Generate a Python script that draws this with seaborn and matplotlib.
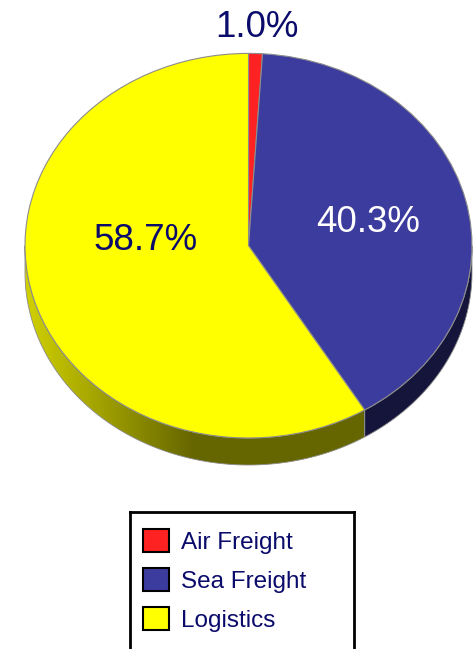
import numpy as np
import matplotlib
matplotlib.use("Agg")
import matplotlib.pyplot as plt
import seaborn as sns
from matplotlib.patches import Polygon, Patch

# data
categories = ["Air Freight", "Sea Freight", "Logistics"]
shares = [1.0, 40.3, 58.7]
labels = ["1.0%", "40.3%", "58.7%"]

sns.set_style("white")
plt.rcParams['font.family'] = ['Liberation Sans', 'DejaVu Sans']

top_colors = sns.color_palette(["#ff2222", "#3c3c9e", "#ffff00"])
side_colors = ["#7a1010", "#15153c", "#666600"]
navy = "#0b0b6b"
edge = "#8c8c8c"

W, H = 475, 649
cx, cy, rx, ry = 248.5, 245.7, 223.5, 192.3
depth = 27 / ry

fig = plt.figure(figsize=(W / 100, H / 100), dpi=100)
ax = fig.add_axes([0, 0, 1, 1])

wedges, _ = ax.pie(shares, colors=top_colors, startangle=90, counterclock=False,
                   radius=1, center=(0, 0),
                   wedgeprops=dict(edgecolor=edge, linewidth=0.8, zorder=3))

# side wall of the front half
for w, sc in zip(wedges, side_colors):
    lo, hi = max(w.theta1, -180), min(w.theta2, 0)
    if lo >= hi:
        continue
    a = np.radians(np.linspace(lo, hi, 120))
    top = np.column_stack([np.cos(a), np.sin(a)])
    bot = np.column_stack([np.cos(a), np.sin(a) - depth])[::-1]
    poly = Polygon(np.vstack([top, bot]), closed=True, zorder=2,
                   facecolor=sc if sc != "#666600" else "none",
                   edgecolor=edge, linewidth=0.6)
    ax.add_patch(poly)
    if sc == "#666600":
        # shaded yellow wall, lighter on the left
        xs = np.linspace(-1, 1, 400)
        b = 0.40 + 0.42 * np.clip((-0.25 - xs) / 0.75, 0, 1)
        grad = np.zeros((1, len(xs), 3))
        grad[0, :, 0] = b
        grad[0, :, 1] = b
        im = ax.imshow(grad, extent=(-1, 1, -1 - depth, 0), aspect='auto',
                       interpolation='bilinear', zorder=1.5)
        im.set_clip_path(poly)

# percentage labels
label_layout = [(1.135, 0.0, navy), (0.55, -0.012, "white"), (0.48, 0.155, navy)]
for w, txt, (r, dy, col) in zip(wedges, labels, label_layout):
    mid = np.radians((w.theta1 + w.theta2) / 2)
    ax.text(r * np.cos(mid), r * np.sin(mid) + dy, txt, ha='center', va='center',
            fontsize=26.5, color=col, zorder=5)

ax.set_aspect('auto')
ax.set_xlim(-cx / rx, (W - cx) / rx)
ax.set_ylim((cy - H) / ry, cy / ry)
ax.axis('off')

# legend box, running off the bottom edge
lax = fig.add_axes([130 / W, (H - 512 - 160) / H, 224 / W, 160 / H])
lax.set_xticks([])
lax.set_yticks([])
for s in lax.spines.values():
    s.set_color("black")
    s.set_linewidth(2)
handles = [Patch(facecolor=c, edgecolor="black", linewidth=1.5) for c in top_colors]
leg = lax.legend(handles, categories, loc='upper left', bbox_to_anchor=(13 / 224, 1 - 17 / 160),
                 frameon=False, fontsize=17.5, handlelength=1.05, handleheight=1.05,
                 handletextpad=0.5, labelspacing=0.6, borderpad=0, borderaxespad=0)
for t in leg.get_texts():
    t.set_color(navy)

fig.savefig("out.png", dpi=100)
